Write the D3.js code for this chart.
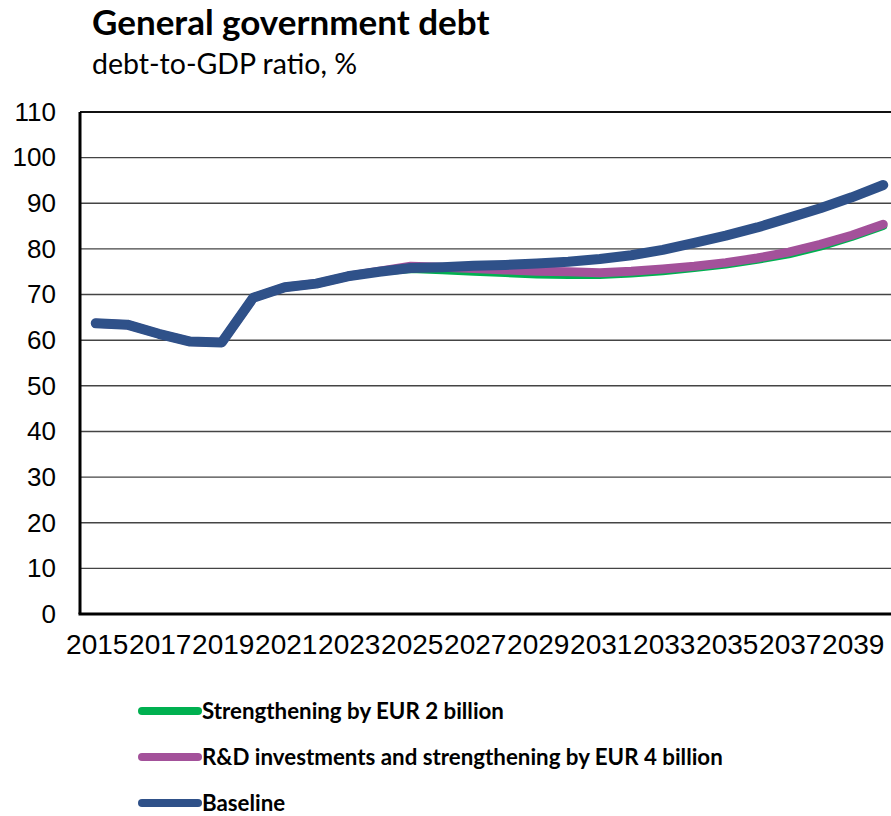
<!DOCTYPE html>
<html><head><meta charset="utf-8">
<script src="https://cdn.jsdelivr.net/npm/d3@7"></script>
<style>
html,body{margin:0;padding:0;background:#fff;overflow:hidden}
svg{display:block}
</style></head>
<body>
<script>
const years = d3.range(2015, 2041);
const tickYears = [2015,2017,2019,2021,2023,2025,2027,2029,2031,2033,2035,2037,2039];
const yTicks = [0,10,20,30,40,50,60,70,80,90,100,110];
const seriesNames = ["Strengthening by EUR 2 billion","R&D investments and strengthening by EUR 4 billion","Baseline"];
const seriesColors = ["#00b050","#a3519a","#2f5189"];
const strengthening2 = [63.7,63.4,61.4,59.7,59.5,69.3,71.6,72.4,74.0,75.0,75.6,75.3,75.0,74.7,74.4,74.3,74.3,74.6,75.1,75.8,76.6,77.6,78.8,80.5,82.6,85.0];
const rdStrengthening4 = [63.7,63.4,61.4,59.7,59.5,69.3,71.6,72.4,74.0,75.1,76.2,76.0,75.7,75.4,75.1,75.0,74.8,75.1,75.6,76.2,77.0,78.0,79.3,81.0,83.0,85.4];
const baseline = [63.7,63.4,61.4,59.7,59.5,69.3,71.6,72.4,74.0,75.0,75.8,76.0,76.3,76.5,76.8,77.2,77.8,78.6,79.8,81.3,82.9,84.7,86.8,88.9,91.3,94.0];
const seriesData = [strengthening2, rdStrengthening4, baseline];

(function draw() {
const W = 891, H = 816;
const svg = d3.select("body").append("svg").attr("width", W).attr("height", H);

const mLeft = 80, mTop = 112, mBottom = 614;
const band = 31.5;
const mRight = mLeft + band * years.length;

const x = d3.scaleBand().domain(years).range([mLeft, mRight]).padding(0);
const y = d3.scaleLinear().domain([0, 110]).range([mBottom, mTop]);

// title
svg.append("text").attr("x", 92).attr("y", 35)
  .style("font-family", "Lato, 'Open Sans', sans-serif").style("font-weight", "bold")
  .style("font-size", "35px").attr("fill", "#000").text("General government debt");
svg.append("text").attr("x", 92).attr("y", 74)
  .style("font-family", "Lato, 'Open Sans', sans-serif")
  .style("font-size", "28.5px").attr("fill", "#000").text("debt-to-GDP ratio, %");

// gridlines
svg.append("g").selectAll("line").data(yTicks.filter(d => d > 0)).join("line")
  .attr("x1", mLeft).attr("x2", mRight)
  .attr("y1", d => y(d)).attr("y2", d => y(d))
  .attr("stroke", d => d === 110 ? "#111" : "#444")
  .attr("stroke-width", d => d === 110 ? 2 : 1.4);

// y axis
const yAxis = d3.axisLeft(y).tickValues(yTicks).tickSize(0).tickPadding(24);
const gy = svg.append("g").attr("transform", `translate(${mLeft},0)`).call(yAxis);
gy.select(".domain").remove();
gy.selectAll("text").style("font-family", "'Liberation Sans', Arial, sans-serif")
  .style("font-size", "26px").attr("fill", "#000");

// x axis
const xAxis = d3.axisBottom(x).tickValues(tickYears).tickSize(0).tickPadding(20);
const gx = svg.append("g").attr("transform", `translate(1.5,${mBottom})`).call(xAxis);
gx.select(".domain").remove();
gx.selectAll("text").style("font-family", "'Liberation Sans', Arial, sans-serif")
  .style("font-size", "28px").attr("fill", "#000");

// axis lines
svg.append("line").attr("x1", mLeft).attr("x2", mLeft).attr("y1", mTop).attr("y2", mBottom)
  .attr("stroke", "#000").attr("stroke-width", 3);
svg.append("line").attr("x1", mLeft - 1.5).attr("x2", mRight).attr("y1", mBottom).attr("y2", mBottom)
  .attr("stroke", "#000").attr("stroke-width", 3);

// lines
const line = d3.line().x((d, i) => x(years[i]) + x.bandwidth() / 2).y(d => y(d));
const widths = [8, 9, 10];
svg.append("g").selectAll("path").data(seriesData).join("path")
  .attr("d", d => line(d))
  .attr("fill", "none")
  .attr("stroke", (d, i) => seriesColors[i])
  .attr("stroke-width", (d, i) => widths[i])
  .attr("stroke-linecap", "round").attr("stroke-linejoin", "round");

// legend
const lg = svg.append("g");
const legY = [711, 757, 803];
seriesNames.forEach((n, i) => {
  lg.append("line").attr("x1", 142).attr("x2", 198).attr("y1", legY[i]).attr("y2", legY[i])
    .attr("stroke", seriesColors[i]).attr("stroke-width", 8).attr("stroke-linecap", "round");
  lg.append("text").attr("x", 202).attr("y", legY[i] + 7.5)
    .style("font-family", "Lato, 'Open Sans', sans-serif").style("font-weight", "bold")
    .style("font-size", "22.3px").attr("fill", "#000").text(n);
});
})();
</script>
</body></html>
